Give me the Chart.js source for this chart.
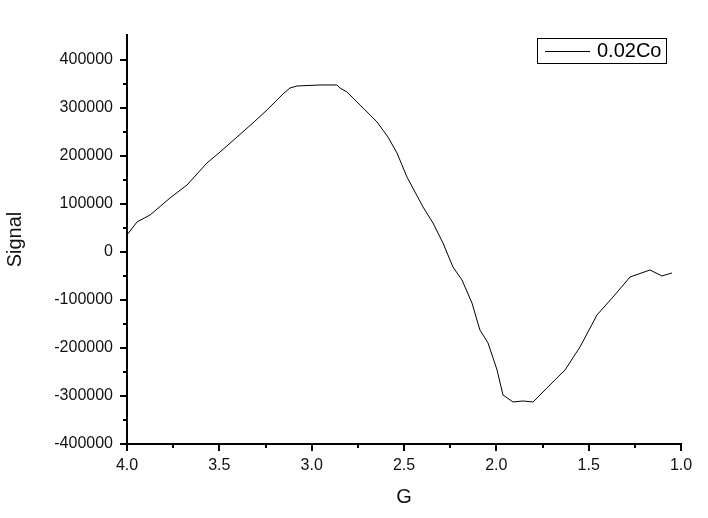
<!DOCTYPE html>
<html>
<head>
<meta charset="utf-8">
<script src="https://cdn.jsdelivr.net/npm/chart.js@4/dist/chart.umd.min.js"></script>
<style>
  html, body { margin: 0; padding: 0; background: #fff; }
  #wrap { width: 708px; height: 518px; }
</style>
</head>
<body>
<div id="wrap"><canvas id="chart" width="708" height="518"></canvas></div>
<script>
/* ── Data ────────────────────────────────────────────────── */
const seriesName = '0.02Co';
const fieldG = [4.00, 3.946, 3.875, 3.767, 3.675, 3.567, 3.496, 3.404, 3.318, 3.242, 3.155, 3.117, 3.079,
                2.955, 2.863, 2.847, 2.809, 2.738, 2.646, 2.587, 2.538, 2.484, 2.397, 2.343, 2.289, 2.235,
                2.186, 2.132, 2.089, 2.045, 1.996, 1.964, 1.910, 1.856, 1.801, 1.726, 1.628, 1.547,
                1.455, 1.368, 1.276, 1.168, 1.103, 1.049];
const signal = [35400, 62500, 77100, 112500, 139600, 185400, 208300, 239600, 268750, 295800, 329200, 341700, 345800,
                347900, 347900, 341700, 333300, 306250, 270800, 239600, 206250, 156250, 93750, 60400, 18750, -31250,
                -58300, -106250, -162500, -189600, -245800, -297900, -312500, -310400, -312500, -283300, -245800, -197900,
                -131250, -93750, -52100, -37500, -50000, -43750];
const xTicks = [4.0, 3.5, 3.0, 2.5, 2.0, 1.5, 1.0];
const yTicks = [-400000, -300000, -200000, -100000, 0, 100000, 200000, 300000, 400000];

const FONT = 'Arial, "Liberation Sans", sans-serif';

// Origin-style outward ticks: major + minor halfway between, plus the legend box
const axisTicks = {
  id: 'axisTicks',
  afterDraw(chart) {
    const { ctx, scales: { x, y } } = chart;
    ctx.save();
    ctx.strokeStyle = '#000';
    ctx.lineWidth = 2;
    ctx.beginPath();
    yTicks.forEach((v, i) => {
      const py = Math.round(y.getPixelForValue(v));
      ctx.moveTo(y.right - 7, py); ctx.lineTo(y.right, py);
      if (i < yTicks.length - 1) {
        const my = Math.round(y.getPixelForValue(v + 50000));
        ctx.moveTo(y.right - 4, my); ctx.lineTo(y.right, my);
      }
    });
    xTicks.forEach((v, i) => {
      const px = Math.round(x.getPixelForValue(v));
      ctx.moveTo(px, x.top); ctx.lineTo(px, x.top + 7);
      if (i < xTicks.length - 1) {
        const mx = Math.round(x.getPixelForValue(v - 0.25));
        ctx.moveTo(mx, x.top); ctx.lineTo(mx, x.top + 4);
      }
    });
    ctx.stroke();

    // legend box
    ctx.lineWidth = 1;
    ctx.strokeRect(537.5, 38.5, 129, 25);
    ctx.beginPath();
    ctx.moveTo(545, 51.5); ctx.lineTo(590, 51.5);
    ctx.stroke();
    ctx.fillStyle = '#000';
    ctx.font = '20px ' + FONT;
    ctx.textBaseline = 'middle';
    ctx.fillText(seriesName, 597, 51);
    ctx.restore();
  }
};

new Chart(document.getElementById('chart'), {
  type: 'scatter',
  data: {
    datasets: [{
      label: seriesName,
      data: fieldG.map((g, i) => ({ x: g, y: signal[i] })),
      showLine: true,
      borderColor: '#000',
      borderWidth: 1,
      pointRadius: 0,
      tension: 0
    }]
  },
  options: {
    responsive: false,
    animation: false,
    layout: { padding: { top: 35, right: 27, left: 0, bottom: 0 } },
    plugins: { legend: { display: false }, tooltip: { enabled: false } },
    scales: {
      x: {
        type: 'linear',
        reverse: true,
        min: 1.0, max: 4.0,
        afterBuildTicks: s => { s.ticks = xTicks.map(v => ({ value: v })); },
        afterFit: s => { s.height = 74; },
        grid: { display: false, drawTicks: false },
        border: { display: true, color: '#000', width: 2 },
        ticks: {
          color: '#111', padding: 12, maxRotation: 0,
          font: { family: FONT, size: 16 },
          callback: v => v.toFixed(1)
        },
        title: {
          display: true, text: 'G', color: '#111',
          font: { family: FONT, size: 20 }, padding: { top: 0, bottom: 9 }
        }
      },
      y: {
        min: -400000, max: 452000,
        afterBuildTicks: s => { s.ticks = yTicks.map(v => ({ value: v })); },
        afterFit: s => { s.width = 127; },
        grid: { display: false, drawTicks: false },
        border: { display: true, color: '#000', width: 2 },
        ticks: {
          color: '#111', padding: 14,
          font: { family: FONT, size: 16 },
          callback: v => String(v)
        },
        title: {
          display: true, text: 'Signal', color: '#111',
          font: { family: FONT, size: 20 }, padding: 3
        }
      }
    }
  },
  plugins: [axisTicks]
});
</script>
</body>
</html>
